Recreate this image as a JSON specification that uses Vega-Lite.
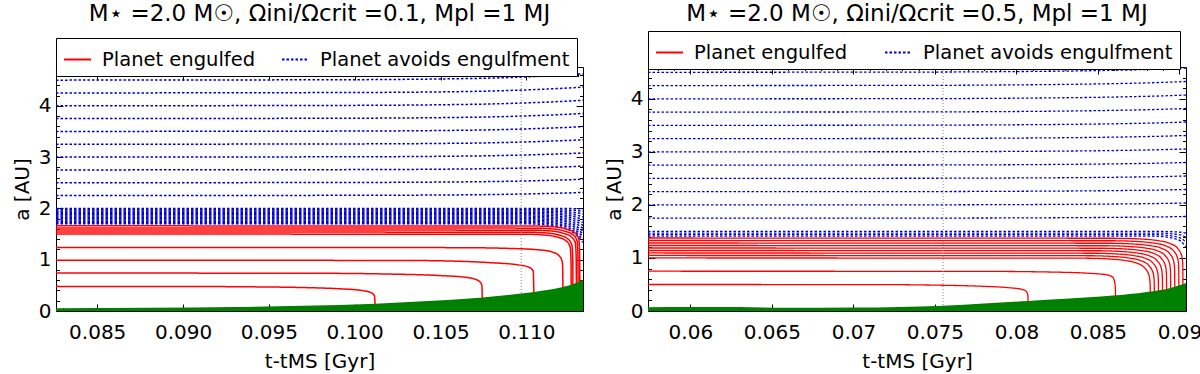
{
"$schema": "https://vega.github.io/schema/vega-lite/v6.json",
"background": "white",
"padding": {"left": 11, "top": 2, "right": 2, "bottom": 0},
"spacing": 19,
"config": {
  "font": "DejaVu Sans",
  "view": {"stroke": "black", "strokeWidth": 1},
  "axis": {"domain": false, "grid": false, "labelFontSize": 20, "titleFontSize": 20, "titleFontWeight": "normal", "labelColor": "black", "titleColor": "black", "tickColor": "black", "tickWidth": 1, "labelOverlap": false, "labelFlush": false, "labelPadding": 12, "titlePadding": 6, "labelFont": "DejaVu Sans", "titleFont": "DejaVu Sans"},
  "title": {"fontSize": 23, "fontWeight": "normal", "color": "black", "anchor": "middle", "font": "DejaVu Sans"},
  "legend": {"orient": "none", "direction": "horizontal", "strokeColor": "black", "fillColor": "white", "padding": 7, "symbolType": "stroke", "symbolSize": 729, "symbolStrokeWidth": 2, "labelFontSize": 19.5, "labelColor": "black", "labelOffset": 10, "labelLimit": 400, "cornerRadius": 0, "labelFont": "DejaVu Sans"}
},
"datasets": {
"L": [
{"i":1,"k":"b","t":0.0826,"a":4.5},{"i":1,"k":"b","t":0.1,"a":4.509},{"i":1,"k":"b","t":0.105,"a":4.523},{"i":1,"k":"b","t":0.108,"a":4.541},{"i":1,"k":"b","t":0.11,"a":4.563},{"i":1,"k":"b","t":0.1115,"a":4.586},{"i":1,"k":"b","t":0.1125,"a":4.604},{"i":1,"k":"b","t":0.1133,"a":4.622},
{"i":2,"k":"b","t":0.0826,"a":4.25},{"i":2,"k":"b","t":0.1,"a":4.259},{"i":2,"k":"b","t":0.105,"a":4.271},{"i":2,"k":"b","t":0.108,"a":4.288},{"i":2,"k":"b","t":0.11,"a":4.31},{"i":2,"k":"b","t":0.1115,"a":4.331},{"i":2,"k":"b","t":0.1125,"a":4.348},{"i":2,"k":"b","t":0.1133,"a":4.365},
{"i":3,"k":"b","t":0.0826,"a":4.0},{"i":3,"k":"b","t":0.1,"a":4.008},{"i":3,"k":"b","t":0.105,"a":4.02},{"i":3,"k":"b","t":0.108,"a":4.036},{"i":3,"k":"b","t":0.11,"a":4.056},{"i":3,"k":"b","t":0.1115,"a":4.076},{"i":3,"k":"b","t":0.1125,"a":4.092},{"i":3,"k":"b","t":0.1133,"a":4.108},
{"i":4,"k":"b","t":0.0826,"a":3.75},{"i":4,"k":"b","t":0.1,"a":3.758},{"i":4,"k":"b","t":0.105,"a":3.769},{"i":4,"k":"b","t":0.108,"a":3.784},{"i":4,"k":"b","t":0.11,"a":3.803},{"i":4,"k":"b","t":0.1115,"a":3.821},{"i":4,"k":"b","t":0.1125,"a":3.836},{"i":4,"k":"b","t":0.1133,"a":3.851},
{"i":5,"k":"b","t":0.0826,"a":3.5},{"i":5,"k":"b","t":0.1,"a":3.507},{"i":5,"k":"b","t":0.105,"a":3.518},{"i":5,"k":"b","t":0.108,"a":3.532},{"i":5,"k":"b","t":0.11,"a":3.549},{"i":5,"k":"b","t":0.1115,"a":3.567},{"i":5,"k":"b","t":0.1125,"a":3.581},{"i":5,"k":"b","t":0.1133,"a":3.595},
{"i":6,"k":"b","t":0.0826,"a":3.25},{"i":6,"k":"b","t":0.1,"a":3.257},{"i":6,"k":"b","t":0.105,"a":3.266},{"i":6,"k":"b","t":0.108,"a":3.279},{"i":6,"k":"b","t":0.11,"a":3.296},{"i":6,"k":"b","t":0.1115,"a":3.312},{"i":6,"k":"b","t":0.1125,"a":3.325},{"i":6,"k":"b","t":0.1133,"a":3.338},
{"i":7,"k":"b","t":0.0826,"a":3.0},{"i":7,"k":"b","t":0.1,"a":3.006},{"i":7,"k":"b","t":0.105,"a":3.015},{"i":7,"k":"b","t":0.108,"a":3.027},{"i":7,"k":"b","t":0.11,"a":3.042},{"i":7,"k":"b","t":0.1115,"a":3.057},{"i":7,"k":"b","t":0.1125,"a":3.069},{"i":7,"k":"b","t":0.1133,"a":3.081},
{"i":8,"k":"b","t":0.0826,"a":2.75},{"i":8,"k":"b","t":0.1,"a":2.756},{"i":8,"k":"b","t":0.105,"a":2.764},{"i":8,"k":"b","t":0.108,"a":2.775},{"i":8,"k":"b","t":0.11,"a":2.789},{"i":8,"k":"b","t":0.1115,"a":2.802},{"i":8,"k":"b","t":0.1125,"a":2.813},{"i":8,"k":"b","t":0.1133,"a":2.824},
{"i":9,"k":"b","t":0.0826,"a":2.5},{"i":9,"k":"b","t":0.1,"a":2.505},{"i":9,"k":"b","t":0.105,"a":2.513},{"i":9,"k":"b","t":0.108,"a":2.523},{"i":9,"k":"b","t":0.11,"a":2.535},{"i":9,"k":"b","t":0.1115,"a":2.548},{"i":9,"k":"b","t":0.1125,"a":2.558},{"i":9,"k":"b","t":0.1133,"a":2.568},
{"i":10,"k":"b","t":0.0826,"a":2.25},{"i":10,"k":"b","t":0.1,"a":2.255},{"i":10,"k":"b","t":0.105,"a":2.261},{"i":10,"k":"b","t":0.108,"a":2.27},{"i":10,"k":"b","t":0.11,"a":2.282},{"i":10,"k":"b","t":0.1115,"a":2.293},{"i":10,"k":"b","t":0.1125,"a":2.302},{"i":10,"k":"b","t":0.1133,"a":2.311},
{"i":11,"k":"b","t":0.0826,"a":2.0},{"i":11,"k":"b","t":0.11,"a":2.0},{"i":11,"k":"b","t":0.1118,"a":2.0},{"i":11,"k":"b","t":0.1127,"a":1.995},{"i":11,"k":"b","t":0.1133,"a":1.99},
{"i":12,"k":"b","t":0.0826,"a":1.975},{"i":12,"k":"b","t":0.11,"a":1.975},{"i":12,"k":"b","t":0.1118,"a":1.9705},{"i":12,"k":"b","t":0.1127,"a":1.9615},{"i":12,"k":"b","t":0.1133,"a":1.945},
{"i":13,"k":"b","t":0.0826,"a":1.95},{"i":13,"k":"b","t":0.11,"a":1.95},{"i":13,"k":"b","t":0.1118,"a":1.941},{"i":13,"k":"b","t":0.1127,"a":1.923},{"i":13,"k":"b","t":0.1133,"a":1.89},
{"i":14,"k":"b","t":0.0826,"a":1.925},{"i":14,"k":"b","t":0.11,"a":1.925},{"i":14,"k":"b","t":0.1118,"a":1.9115},{"i":14,"k":"b","t":0.1127,"a":1.8845},{"i":14,"k":"b","t":0.1133,"a":1.835},
{"i":15,"k":"b","t":0.0826,"a":1.9},{"i":15,"k":"b","t":0.11,"a":1.9},{"i":15,"k":"b","t":0.1118,"a":1.882},{"i":15,"k":"b","t":0.1127,"a":1.846},{"i":15,"k":"b","t":0.1133,"a":1.78},
{"i":16,"k":"b","t":0.0826,"a":1.875},{"i":16,"k":"b","t":0.11,"a":1.875},{"i":16,"k":"b","t":0.1118,"a":1.8525},{"i":16,"k":"b","t":0.1127,"a":1.8075},{"i":16,"k":"b","t":0.1133,"a":1.725},
{"i":17,"k":"b","t":0.0826,"a":1.85},{"i":17,"k":"b","t":0.11,"a":1.85},{"i":17,"k":"b","t":0.1118,"a":1.823},{"i":17,"k":"b","t":0.1127,"a":1.769},{"i":17,"k":"b","t":0.1133,"a":1.67},
{"i":18,"k":"b","t":0.0826,"a":1.825},{"i":18,"k":"b","t":0.11,"a":1.825},{"i":18,"k":"b","t":0.1118,"a":1.7935},{"i":18,"k":"b","t":0.1127,"a":1.7305},{"i":18,"k":"b","t":0.1133,"a":1.615},
{"i":19,"k":"b","t":0.0826,"a":1.8},{"i":19,"k":"b","t":0.11,"a":1.8},{"i":19,"k":"b","t":0.1118,"a":1.764},{"i":19,"k":"b","t":0.1127,"a":1.692},{"i":19,"k":"b","t":0.1133,"a":1.56},
{"i":20,"k":"b","t":0.0826,"a":1.775},{"i":20,"k":"b","t":0.11,"a":1.775},{"i":20,"k":"b","t":0.1118,"a":1.7345},{"i":20,"k":"b","t":0.1127,"a":1.6535},{"i":20,"k":"b","t":0.1133,"a":1.505},
{"i":21,"k":"b","t":0.0826,"a":1.75},{"i":21,"k":"b","t":0.11,"a":1.75},{"i":21,"k":"b","t":0.1118,"a":1.705},{"i":21,"k":"b","t":0.1127,"a":1.615},{"i":21,"k":"b","t":0.1133,"a":1.45},
{"i":22,"k":"b","t":0.0826,"a":1.725},{"i":22,"k":"b","t":0.11,"a":1.725},{"i":22,"k":"b","t":0.1118,"a":1.6755},{"i":22,"k":"b","t":0.1127,"a":1.5765},{"i":22,"k":"b","t":0.1133,"a":1.395},
{"i":23,"k":"b","t":0.0826,"a":1.7},{"i":23,"k":"b","t":0.11,"a":1.7},{"i":23,"k":"b","t":0.1118,"a":1.646},{"i":23,"k":"b","t":0.1127,"a":1.538},{"i":23,"k":"b","t":0.1133,"a":1.34},
{"i":30,"k":"e","t":0.0826,"a":0.48},{"i":30,"k":"e","t":0.09,"a":0.478},{"i":30,"k":"e","t":0.094,"a":0.471},{"i":30,"k":"e","t":0.097,"a":0.457},{"i":30,"k":"e","t":0.099,"a":0.435},{"i":30,"k":"e","t":0.1003,"a":0.405},{"i":30,"k":"e","t":0.1009,"a":0.365},{"i":30,"k":"e","t":0.10115,"a":0.3},{"i":30,"k":"e","t":0.1012,"a":0},
{"i":31,"k":"e","t":0.0826,"a":0.74},{"i":31,"k":"e","t":0.098,"a":0.735},{"i":31,"k":"e","t":0.102,"a":0.72},{"i":31,"k":"e","t":0.105,"a":0.69},{"i":31,"k":"e","t":0.1065,"a":0.655},{"i":31,"k":"e","t":0.1071,"a":0.61},{"i":31,"k":"e","t":0.1074,"a":0.52},{"i":31,"k":"e","t":0.10745,"a":0},
{"i":32,"k":"e","t":0.0826,"a":0.99},{"i":32,"k":"e","t":0.103,"a":0.985},{"i":32,"k":"e","t":0.106,"a":0.97},{"i":32,"k":"e","t":0.108,"a":0.94},{"i":32,"k":"e","t":0.1095,"a":0.9},{"i":32,"k":"e","t":0.1101,"a":0.86},{"i":32,"k":"e","t":0.1104,"a":0.78},{"i":32,"k":"e","t":0.11045,"a":0},
{"i":33,"k":"e","t":0.0826,"a":1.24},{"i":33,"k":"e","t":0.106,"a":1.235},{"i":33,"k":"e","t":0.109,"a":1.22},{"i":33,"k":"e","t":0.1108,"a":1.19},{"i":33,"k":"e","t":0.1115,"a":1.15},{"i":33,"k":"e","t":0.1119,"a":1.08},{"i":33,"k":"e","t":0.1121,"a":0.95},{"i":33,"k":"e","t":0.11215,"a":0},
{"i":34,"k":"e","t":0.0826,"a":1.5},{"i":34,"k":"e","t":0.1101,"a":1.495},{"i":34,"k":"e","t":0.1111,"a":1.48},{"i":34,"k":"e","t":0.1118,"a":1.44},{"i":34,"k":"e","t":0.1123,"a":1.37},{"i":34,"k":"e","t":0.11255,"a":1.25},{"i":34,"k":"e","t":0.1126,"a":1.0},{"i":34,"k":"e","t":0.11262,"a":0},
{"i":35,"k":"e","t":0.0826,"a":1.54},{"i":35,"k":"e","t":0.1102,"a":1.535},{"i":35,"k":"e","t":0.1112,"a":1.52},{"i":35,"k":"e","t":0.1119,"a":1.48},{"i":35,"k":"e","t":0.1124,"a":1.41},{"i":35,"k":"e","t":0.11265,"a":1.29},{"i":35,"k":"e","t":0.1127,"a":1.04},{"i":35,"k":"e","t":0.11272,"a":0},
{"i":36,"k":"e","t":0.0826,"a":1.58},{"i":36,"k":"e","t":0.1104,"a":1.575},{"i":36,"k":"e","t":0.1114,"a":1.56},{"i":36,"k":"e","t":0.1121,"a":1.52},{"i":36,"k":"e","t":0.1126,"a":1.45},{"i":36,"k":"e","t":0.11285,"a":1.33},{"i":36,"k":"e","t":0.1129,"a":1.08},{"i":36,"k":"e","t":0.11292,"a":0},
{"i":37,"k":"e","t":0.0826,"a":1.62},{"i":37,"k":"e","t":0.1105,"a":1.615},{"i":37,"k":"e","t":0.1115,"a":1.6},{"i":37,"k":"e","t":0.1122,"a":1.56},{"i":37,"k":"e","t":0.1127,"a":1.49},{"i":37,"k":"e","t":0.11295,"a":1.37},{"i":37,"k":"e","t":0.113,"a":1.12},{"i":37,"k":"e","t":0.11302,"a":0},
{"i":38,"k":"e","t":0.0826,"a":1.66},{"i":38,"k":"e","t":0.1106,"a":1.655},{"i":38,"k":"e","t":0.1116,"a":1.64},{"i":38,"k":"e","t":0.1123,"a":1.6},{"i":38,"k":"e","t":0.1128,"a":1.53},{"i":38,"k":"e","t":0.11305,"a":1.41},{"i":38,"k":"e","t":0.1131,"a":1.16},{"i":38,"k":"e","t":0.11312,"a":0}
],
"Lg": [
{"t":0.0826,"r":0.055},{"t":0.088,"r":0.065},{"t":0.093,"r":0.08},{"t":0.097,"r":0.1},{"t":0.1012,"r":0.14},{"t":0.104,"r":0.19},{"t":0.1073,"r":0.26},{"t":0.1097,"r":0.34},{"t":0.111,"r":0.4},{"t":0.112,"r":0.46},{"t":0.1127,"r":0.52},{"t":0.1133,"r":0.61}
],
"R": [
{"i":1,"k":"b","t":0.0574,"a":4.5},{"i":1,"k":"b","t":0.075,"a":4.505},{"i":1,"k":"b","t":0.08,"a":4.514},{"i":1,"k":"b","t":0.084,"a":4.527},{"i":1,"k":"b","t":0.087,"a":4.545},{"i":1,"k":"b","t":0.089,"a":4.563},{"i":1,"k":"b","t":0.0904,"a":4.581},
{"i":2,"k":"b","t":0.0574,"a":4.25},{"i":2,"k":"b","t":0.075,"a":4.254},{"i":2,"k":"b","t":0.08,"a":4.263},{"i":2,"k":"b","t":0.084,"a":4.276},{"i":2,"k":"b","t":0.087,"a":4.293},{"i":2,"k":"b","t":0.089,"a":4.31},{"i":2,"k":"b","t":0.0904,"a":4.327},
{"i":3,"k":"b","t":0.0574,"a":4.0},{"i":3,"k":"b","t":0.075,"a":4.004},{"i":3,"k":"b","t":0.08,"a":4.012},{"i":3,"k":"b","t":0.084,"a":4.024},{"i":3,"k":"b","t":0.087,"a":4.04},{"i":3,"k":"b","t":0.089,"a":4.056},{"i":3,"k":"b","t":0.0904,"a":4.072},
{"i":4,"k":"b","t":0.0574,"a":3.75},{"i":4,"k":"b","t":0.075,"a":3.754},{"i":4,"k":"b","t":0.08,"a":3.761},{"i":4,"k":"b","t":0.084,"a":3.773},{"i":4,"k":"b","t":0.087,"a":3.788},{"i":4,"k":"b","t":0.089,"a":3.803},{"i":4,"k":"b","t":0.0904,"a":3.818},
{"i":5,"k":"b","t":0.0574,"a":3.5},{"i":5,"k":"b","t":0.075,"a":3.504},{"i":5,"k":"b","t":0.08,"a":3.511},{"i":5,"k":"b","t":0.084,"a":3.521},{"i":5,"k":"b","t":0.087,"a":3.535},{"i":5,"k":"b","t":0.089,"a":3.549},{"i":5,"k":"b","t":0.0904,"a":3.563},
{"i":6,"k":"b","t":0.0574,"a":3.25},{"i":6,"k":"b","t":0.075,"a":3.253},{"i":6,"k":"b","t":0.08,"a":3.26},{"i":6,"k":"b","t":0.084,"a":3.27},{"i":6,"k":"b","t":0.087,"a":3.283},{"i":6,"k":"b","t":0.089,"a":3.296},{"i":6,"k":"b","t":0.0904,"a":3.309},
{"i":7,"k":"b","t":0.0574,"a":3.0},{"i":7,"k":"b","t":0.075,"a":3.003},{"i":7,"k":"b","t":0.08,"a":3.009},{"i":7,"k":"b","t":0.084,"a":3.018},{"i":7,"k":"b","t":0.087,"a":3.03},{"i":7,"k":"b","t":0.089,"a":3.042},{"i":7,"k":"b","t":0.0904,"a":3.054},
{"i":8,"k":"b","t":0.0574,"a":2.75},{"i":8,"k":"b","t":0.075,"a":2.753},{"i":8,"k":"b","t":0.08,"a":2.758},{"i":8,"k":"b","t":0.084,"a":2.767},{"i":8,"k":"b","t":0.087,"a":2.778},{"i":8,"k":"b","t":0.089,"a":2.789},{"i":8,"k":"b","t":0.0904,"a":2.8},
{"i":9,"k":"b","t":0.0574,"a":2.5},{"i":9,"k":"b","t":0.075,"a":2.503},{"i":9,"k":"b","t":0.08,"a":2.508},{"i":9,"k":"b","t":0.084,"a":2.515},{"i":9,"k":"b","t":0.087,"a":2.525},{"i":9,"k":"b","t":0.089,"a":2.535},{"i":9,"k":"b","t":0.0904,"a":2.545},
{"i":10,"k":"b","t":0.0574,"a":2.25},{"i":10,"k":"b","t":0.075,"a":2.252},{"i":10,"k":"b","t":0.08,"a":2.257},{"i":10,"k":"b","t":0.084,"a":2.264},{"i":10,"k":"b","t":0.087,"a":2.273},{"i":10,"k":"b","t":0.089,"a":2.282},{"i":10,"k":"b","t":0.0904,"a":2.291},
{"i":11,"k":"b","t":0.0574,"a":2.0},{"i":11,"k":"b","t":0.075,"a":2.002},{"i":11,"k":"b","t":0.08,"a":2.006},{"i":11,"k":"b","t":0.084,"a":2.012},{"i":11,"k":"b","t":0.087,"a":2.02},{"i":11,"k":"b","t":0.089,"a":2.028},{"i":11,"k":"b","t":0.0904,"a":2.036},
{"i":12,"k":"b","t":0.0574,"a":1.75},{"i":12,"k":"b","t":0.075,"a":1.752},{"i":12,"k":"b","t":0.08,"a":1.755},{"i":12,"k":"b","t":0.084,"a":1.761},{"i":12,"k":"b","t":0.087,"a":1.768},{"i":12,"k":"b","t":0.089,"a":1.775},{"i":12,"k":"b","t":0.0904,"a":1.782},
{"i":13,"k":"b","t":0.0574,"a":1.5},{"i":13,"k":"b","t":0.0885,"a":1.5},{"i":13,"k":"b","t":0.0896,"a":1.494},{"i":13,"k":"b","t":0.0901,"a":1.485},{"i":13,"k":"b","t":0.0904,"a":1.47},
{"i":14,"k":"b","t":0.0574,"a":1.47},{"i":14,"k":"b","t":0.0885,"a":1.47},{"i":14,"k":"b","t":0.0896,"a":1.454},{"i":14,"k":"b","t":0.0901,"a":1.43},{"i":14,"k":"b","t":0.0904,"a":1.39},
{"i":15,"k":"b","t":0.0574,"a":1.44},{"i":15,"k":"b","t":0.0885,"a":1.44},{"i":15,"k":"b","t":0.0896,"a":1.412},{"i":15,"k":"b","t":0.0901,"a":1.37},{"i":15,"k":"b","t":0.0904,"a":1.3},
{"i":16,"k":"b","t":0.0574,"a":1.41},{"i":16,"k":"b","t":0.0885,"a":1.41},{"i":16,"k":"b","t":0.0896,"a":1.37},{"i":16,"k":"b","t":0.0901,"a":1.31},{"i":16,"k":"b","t":0.0904,"a":1.21},
{"i":20,"k":"e","t":0.0574,"a":0.5},{"i":20,"k":"e","t":0.072,"a":0.497},{"i":20,"k":"e","t":0.0755,"a":0.485},{"i":20,"k":"e","t":0.078,"a":0.465},{"i":20,"k":"e","t":0.0795,"a":0.44},{"i":20,"k":"e","t":0.0803,"a":0.41},{"i":20,"k":"e","t":0.0806,"a":0.37},{"i":20,"k":"e","t":0.0807,"a":0.3},{"i":20,"k":"e","t":0.08072,"a":0},
{"i":21,"k":"e","t":0.0574,"a":0.75},{"i":21,"k":"e","t":0.078,"a":0.747},{"i":21,"k":"e","t":0.082,"a":0.735},{"i":21,"k":"e","t":0.0845,"a":0.71},{"i":21,"k":"e","t":0.0855,"a":0.685},{"i":21,"k":"e","t":0.0859,"a":0.64},{"i":21,"k":"e","t":0.08605,"a":0.5},{"i":21,"k":"e","t":0.0861,"a":0},
{"i":22,"k":"e","t":0.0574,"a":1.0},{"i":22,"k":"e","t":0.0842,"a":0.995},{"i":22,"k":"e","t":0.0857,"a":0.98},{"i":22,"k":"e","t":0.0867,"a":0.95},{"i":22,"k":"e","t":0.0874,"a":0.9},{"i":22,"k":"e","t":0.0879,"a":0.8},{"i":22,"k":"e","t":0.08815,"a":0.65},{"i":22,"k":"e","t":0.0882,"a":0.5},{"i":22,"k":"e","t":0.08822,"a":0},
{"i":23,"k":"e","t":0.0574,"a":1.047},{"i":23,"k":"e","t":0.08445,"a":1.042},{"i":23,"k":"e","t":0.08595,"a":1.027},{"i":23,"k":"e","t":0.08695,"a":0.997},{"i":23,"k":"e","t":0.08765,"a":0.947},{"i":23,"k":"e","t":0.08815,"a":0.847},{"i":23,"k":"e","t":0.0884,"a":0.697},{"i":23,"k":"e","t":0.08845,"a":0.547},{"i":23,"k":"e","t":0.08847,"a":0},
{"i":24,"k":"e","t":0.0574,"a":1.094},{"i":24,"k":"e","t":0.0847,"a":1.089},{"i":24,"k":"e","t":0.0862,"a":1.074},{"i":24,"k":"e","t":0.0872,"a":1.044},{"i":24,"k":"e","t":0.0879,"a":0.994},{"i":24,"k":"e","t":0.0884,"a":0.894},{"i":24,"k":"e","t":0.08865,"a":0.744},{"i":24,"k":"e","t":0.0887,"a":0.594},{"i":24,"k":"e","t":0.08872,"a":0},
{"i":25,"k":"e","t":0.0574,"a":1.141},{"i":25,"k":"e","t":0.08495,"a":1.136},{"i":25,"k":"e","t":0.08645,"a":1.121},{"i":25,"k":"e","t":0.08745,"a":1.091},{"i":25,"k":"e","t":0.08815,"a":1.041},{"i":25,"k":"e","t":0.08865,"a":0.941},{"i":25,"k":"e","t":0.0889,"a":0.791},{"i":25,"k":"e","t":0.08895,"a":0.641},{"i":25,"k":"e","t":0.08897,"a":0},
{"i":26,"k":"e","t":0.0574,"a":1.188},{"i":26,"k":"e","t":0.0852,"a":1.183},{"i":26,"k":"e","t":0.0867,"a":1.168},{"i":26,"k":"e","t":0.0877,"a":1.138},{"i":26,"k":"e","t":0.0884,"a":1.088},{"i":26,"k":"e","t":0.0889,"a":0.988},{"i":26,"k":"e","t":0.08915,"a":0.838},{"i":26,"k":"e","t":0.0892,"a":0.688},{"i":26,"k":"e","t":0.08922,"a":0},
{"i":27,"k":"e","t":0.0574,"a":1.235},{"i":27,"k":"e","t":0.08545,"a":1.23},{"i":27,"k":"e","t":0.08695,"a":1.215},{"i":27,"k":"e","t":0.08795,"a":1.185},{"i":27,"k":"e","t":0.08865,"a":1.135},{"i":27,"k":"e","t":0.08915,"a":1.035},{"i":27,"k":"e","t":0.0894,"a":0.885},{"i":27,"k":"e","t":0.08945,"a":0.735},{"i":27,"k":"e","t":0.08947,"a":0},
{"i":28,"k":"e","t":0.0574,"a":1.282},{"i":28,"k":"e","t":0.0857,"a":1.277},{"i":28,"k":"e","t":0.0872,"a":1.262},{"i":28,"k":"e","t":0.0882,"a":1.232},{"i":28,"k":"e","t":0.0889,"a":1.182},{"i":28,"k":"e","t":0.0894,"a":1.082},{"i":28,"k":"e","t":0.08965,"a":0.932},{"i":28,"k":"e","t":0.0897,"a":0.782},{"i":28,"k":"e","t":0.08972,"a":0},
{"i":29,"k":"e","t":0.0574,"a":1.329},{"i":29,"k":"e","t":0.08595,"a":1.324},{"i":29,"k":"e","t":0.08745,"a":1.309},{"i":29,"k":"e","t":0.08845,"a":1.279},{"i":29,"k":"e","t":0.08915,"a":1.229},{"i":29,"k":"e","t":0.08965,"a":1.129},{"i":29,"k":"e","t":0.0899,"a":0.979},{"i":29,"k":"e","t":0.08995,"a":0.829},{"i":29,"k":"e","t":0.08997,"a":0},
{"i":30,"k":"e","t":0.0574,"a":1.376},{"i":30,"k":"e","t":0.0862,"a":1.371},{"i":30,"k":"e","t":0.0877,"a":1.356},{"i":30,"k":"e","t":0.0887,"a":1.326},{"i":30,"k":"e","t":0.0894,"a":1.276},{"i":30,"k":"e","t":0.0899,"a":1.176},{"i":30,"k":"e","t":0.09015,"a":1.026},{"i":30,"k":"e","t":0.0902,"a":0.876},{"i":30,"k":"e","t":0.09022,"a":0}
],
"Rg": [
{"t":0.0574,"r":0.07},{"t":0.06,"r":0.075},{"t":0.063,"r":0.075},{"t":0.066,"r":0.06},{"t":0.07,"r":0.065},{"t":0.0755,"r":0.1},{"t":0.078,"r":0.14},{"t":0.0807,"r":0.19},{"t":0.083,"r":0.23},{"t":0.0859,"r":0.29},{"t":0.088,"r":0.36},{"t":0.0895,"r":0.44},{"t":0.0904,"r":0.53}
]
},
"resolve": {"scale": {"color": "independent", "strokeDash": "independent"}, "legend": {"color": "independent", "strokeDash": "independent"}},
"hconcat": [
{
  "width": 527, "height": 244,
  "title": {"text": "M⋆ =2.0 M☉, Ωini/Ωcrit =0.1, Mpl =1 MJ", "offset": 12},
  "resolve": {"axis": {"x": "independent", "y": "independent"}},
  "layer": [
    {
      "data": {"name": "L"},
      "mark": {"type": "line", "interpolate": "monotone", "strokeWidth": 1.5, "clip": true},
      "encoding": {
        "x": {"field": "t", "type": "quantitative", "scale": {"domain": [0.0826, 0.1133], "nice": false, "zero": false},
              "axis": {"orient": "bottom", "title": "t-tMS [Gyr]", "labelPadding": 18, "values": [0.083,0.084,0.085,0.086,0.087,0.088,0.089,0.09,0.091,0.092,0.093,0.094,0.095,0.096,0.097,0.098,0.099,0.1,0.101,0.102,0.103,0.104,0.105,0.106,0.107,0.108,0.109,0.11,0.111,0.112,0.113],
                       "tickSize": {"condition": {"test": "abs(datum.value*200-round(datum.value*200))<0.01", "value": -7}, "value": -3.5},
                       "labelExpr": "abs(datum.value*200-round(datum.value*200))<0.01 ? format(datum.value,'.3f') : ''"}},
        "y": {"field": "a", "type": "quantitative", "scale": {"domain": [0, 4.756], "nice": false},
              "axis": {"orient": "left", "title": "a [AU]", "values": [0,0.2,0.4,0.6,0.8,1,1.2,1.4,1.6,1.8,2,2.2,2.4,2.6,2.8,3,3.2,3.4,3.6,3.8,4,4.2,4.4,4.6],
                       "tickSize": {"condition": {"test": "abs(datum.value-round(datum.value))<0.01", "value": -7}, "value": -3.5},
                       "labelExpr": "abs(datum.value-round(datum.value))<0.01 ? format(datum.value,'.0f') : ''"}},
        "detail": {"field": "i", "type": "nominal"},
        "color": {"field": "k", "type": "nominal", "scale": {"domain": ["e", "b"], "range": ["#ff0000", "#0000dd"]},
                  "legend": {"title": null, "legendX": 0, "legendY": -29, "columnPadding": 22, "labelExpr": "datum.label == 'e' ? 'Planet engulfed' : 'Planet avoids engulfment'"}},
        "strokeDash": {"field": "k", "type": "nominal", "scale": {"domain": ["e", "b"], "range": [[1, 0], [2.5, 2]]},
                  "legend": {"title": null, "legendX": 0, "legendY": -29, "columnPadding": 22, "labelExpr": "datum.label == 'e' ? 'Planet engulfed' : 'Planet avoids engulfment'"}}
      }
    },
    {
      "data": {"values": [{"t": 0.1097}]},
      "mark": {"type": "rule", "color": "#888888", "strokeDash": [1, 2], "strokeWidth": 1},
      "encoding": {"x": {"field": "t", "type": "quantitative", "scale": {"domain": [0.0826, 0.1133], "nice": false, "zero": false}, "axis": null}}
    },
    {
      "data": {"name": "Lg"},
      "mark": {"type": "area", "interpolate": "monotone", "color": "#008000", "opacity": 1, "clip": true},
      "encoding": {
        "x": {"field": "t", "type": "quantitative", "scale": {"domain": [0.0826, 0.1133], "nice": false, "zero": false},
              "axis": {"orient": "top", "title": null, "labels": false, "offset": -6, "values": [0.083,0.084,0.085,0.086,0.087,0.088,0.089,0.09,0.091,0.092,0.093,0.094,0.095,0.096,0.097,0.098,0.099,0.1,0.101,0.102,0.103,0.104,0.105,0.106,0.107,0.108,0.109,0.11,0.111,0.112,0.113],
                       "tickSize": {"condition": {"test": "abs(datum.value*200-round(datum.value*200))<0.01", "value": -7}, "value": -3.5}}},
        "y": {"field": "r", "type": "quantitative", "scale": {"domain": [0, 4.756], "nice": false},
              "axis": {"orient": "right", "title": null, "labels": false, "values": [0,0.2,0.4,0.6,0.8,1,1.2,1.4,1.6,1.8,2,2.2,2.4,2.6,2.8,3,3.2,3.4,3.6,3.8,4,4.2,4.4,4.6],
                       "tickSize": {"condition": {"test": "abs(datum.value-round(datum.value))<0.01", "value": -7}, "value": -3.5}}}
      }
    }
  ]
},
{
  "width": 538, "height": 244,
  "title": {"text": "M⋆ =2.0 M☉, Ωini/Ωcrit =0.5, Mpl =1 MJ", "offset": 5},
  "resolve": {"axis": {"x": "independent", "y": "independent"}},
  "layer": [
    {
      "data": {"name": "R"},
      "mark": {"type": "line", "interpolate": "monotone", "strokeWidth": 1.3, "clip": true},
      "encoding": {
        "x": {"field": "t", "type": "quantitative", "scale": {"domain": [0.0574, 0.0904], "nice": false, "zero": false},
              "axis": {"orient": "bottom", "title": "t-tMS [Gyr]", "labelPadding": 18, "values": [0.058,0.059,0.06,0.061,0.062,0.063,0.064,0.065,0.066,0.067,0.068,0.069,0.07,0.071,0.072,0.073,0.074,0.075,0.076,0.077,0.078,0.079,0.08,0.081,0.082,0.083,0.084,0.085,0.086,0.087,0.088,0.089,0.09],
                       "tickSize": {"condition": {"test": "abs(datum.value*200-round(datum.value*200))<0.01", "value": -7}, "value": -3.5},
                       "labelExpr": "abs(datum.value*200-round(datum.value*200))<0.01 ? format(datum.value,'.3~f') : ''"}},
        "y": {"field": "a", "type": "quantitative", "scale": {"domain": [0, 4.6], "nice": false},
              "axis": {"orient": "left", "title": "a [AU]", "values": [0,0.2,0.4,0.6,0.8,1,1.2,1.4,1.6,1.8,2,2.2,2.4,2.6,2.8,3,3.2,3.4,3.6,3.8,4,4.2,4.4],
                       "tickSize": {"condition": {"test": "abs(datum.value-round(datum.value))<0.01", "value": -7}, "value": -3.5},
                       "labelExpr": "abs(datum.value-round(datum.value))<0.01 ? format(datum.value,'.0f') : ''"}},
        "detail": {"field": "i", "type": "nominal"},
        "color": {"field": "k", "type": "nominal", "scale": {"domain": ["e", "b"], "range": ["#ff0000", "#0000dd"]},
                  "legend": {"title": null, "legendX": 0, "legendY": -36, "columnPadding": 33, "labelExpr": "datum.label == 'e' ? 'Planet engulfed' : 'Planet avoids engulfment'"}},
        "strokeDash": {"field": "k", "type": "nominal", "scale": {"domain": ["e", "b"], "range": [[1, 0], [2.5, 2]]},
                  "legend": {"title": null, "legendX": 0, "legendY": -36, "columnPadding": 33, "labelExpr": "datum.label == 'e' ? 'Planet engulfed' : 'Planet avoids engulfment'"}}
      }
    },
    {
      "data": {"values": [{"t": 0.0755}]},
      "mark": {"type": "rule", "color": "#888888", "strokeDash": [1, 2], "strokeWidth": 1},
      "encoding": {"x": {"field": "t", "type": "quantitative", "scale": {"domain": [0.0574, 0.0904], "nice": false, "zero": false}, "axis": null}}
    },
    {
      "data": {"name": "Rg"},
      "mark": {"type": "area", "interpolate": "monotone", "color": "#008000", "opacity": 1, "clip": true},
      "encoding": {
        "x": {"field": "t", "type": "quantitative", "scale": {"domain": [0.0574, 0.0904], "nice": false, "zero": false},
              "axis": {"orient": "top", "title": null, "labels": false, "values": [0.058,0.059,0.06,0.061,0.062,0.063,0.064,0.065,0.066,0.067,0.068,0.069,0.07,0.071,0.072,0.073,0.074,0.075,0.076,0.077,0.078,0.079,0.08,0.081,0.082,0.083,0.084,0.085,0.086,0.087,0.088,0.089,0.09],
                       "tickSize": {"condition": {"test": "abs(datum.value*200-round(datum.value*200))<0.01", "value": -7}, "value": -3.5}}},
        "y": {"field": "r", "type": "quantitative", "scale": {"domain": [0, 4.6], "nice": false},
              "axis": {"orient": "right", "title": null, "labels": false, "values": [0,0.2,0.4,0.6,0.8,1,1.2,1.4,1.6,1.8,2,2.2,2.4,2.6,2.8,3,3.2,3.4,3.6,3.8,4,4.2,4.4],
                       "tickSize": {"condition": {"test": "abs(datum.value-round(datum.value))<0.01", "value": -7}, "value": -3.5}}}
      }
    }
  ]
}
]
}
